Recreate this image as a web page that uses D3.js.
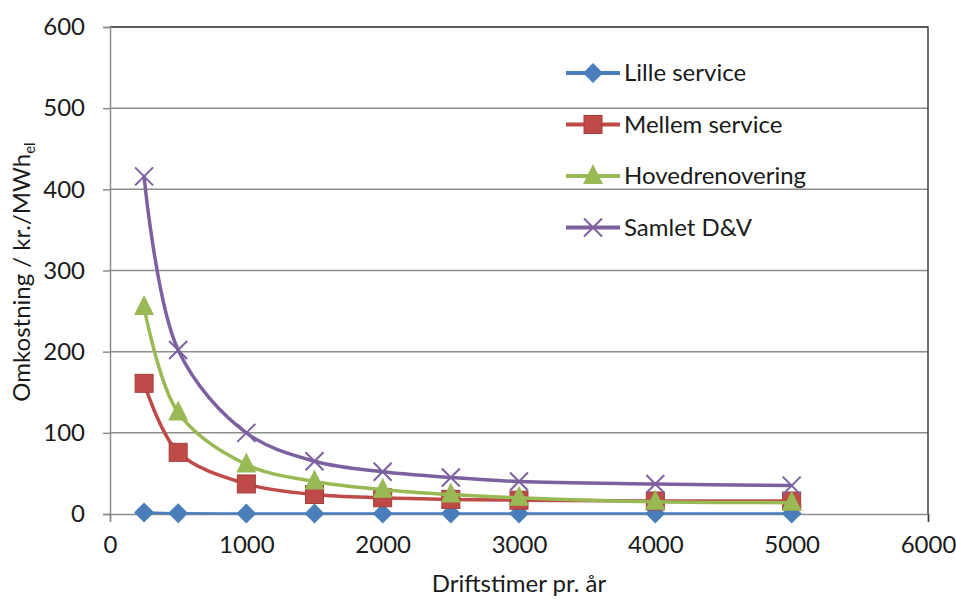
<!DOCTYPE html>
<html>
<head>
<meta charset="utf-8">
<script src="https://cdn.jsdelivr.net/npm/d3@7"></script>
<style>
  body { margin: 0; background: #fff; }
  text { font-family: Lato, "Open Sans", sans-serif; fill: #1a1a1a; }
</style>
</head>
<body>
<script>
// data
var hours = [250, 500, 1000, 1500, 2000, 2500, 3000, 4000, 5000];
var lilleService = [2, 1, 0.5, 0.5, 0.5, 0.5, 0.5, 0.5, 0.5];
var mellemService = [161, 76, 37, 24, 20, 18, 17, 16, 16];
var hovedrenovering = [255, 125, 61, 40, 30, 24, 20, 15, 14];
var samletDV = [416, 202, 100, 65, 52, 45, 40, 37, 35];
var seriesNames = ["Lille service", "Mellem service", "Hovedrenovering", "Samlet D&V"];
var xTicks = [0, 1000, 2000, 3000, 4000, 5000, 6000];
var yTicks = [0, 100, 200, 300, 400, 500, 600];

var width = 956, height = 600;
var margin = {left: 110, right: 28, top: 27, bottom: 86};
var fontSize = 24;

var svg = d3.select("body").append("svg")
    .attr("width", width)
    .attr("height", height);

var x = d3.scaleLinear().domain([0, 6000]).range([margin.left, width - margin.right]);
var y = d3.scaleLinear().domain([0, 600]).range([height - margin.bottom, margin.top]);

// gridlines
svg.append("g").selectAll("line")
    .data(yTicks.filter(function(d) { return d > 0; }))
    .enter().append("line")
    .attr("x1", x(0)).attr("x2", x(6000))
    .attr("y1", function(d) { return y(d); })
    .attr("y2", function(d) { return y(d); })
    .attr("stroke", "#8c8c8c")
    .attr("stroke-width", 1.5);

// plot border top/right
svg.append("path")
    .attr("d", "M" + x(0) + "," + y(600) + "H" + x(6000) + "V" + y(0))
    .attr("fill", "none")
    .attr("stroke", "#404040")
    .attr("stroke-width", 1.5);

// axes
var yAxis = svg.append("g")
    .attr("transform", "translate(" + x(0) + ",0)")
    .call(d3.axisLeft(y).tickValues(yTicks).tickSize(7).tickPadding(18));
var xAxis = svg.append("g")
    .attr("transform", "translate(0," + y(0) + ")")
    .call(d3.axisBottom(x).tickValues(xTicks).tickFormat(d3.format("d")).tickSize(8).tickPadding(14));

[yAxis, xAxis].forEach(function(a) {
  a.selectAll("path, line").attr("stroke", "#8c8c8c").attr("stroke-width", 1.5);
  a.selectAll("text").attr("font-size", fontSize).attr("fill", "#1a1a1a")
    .style("font-family", "Lato, 'Open Sans', sans-serif");
});
xAxis.select(".tick:last-of-type line").attr("stroke", "#404040");

// axis titles
svg.append("text")
    .attr("x", (x(0) + x(6000)) / 2)
    .attr("y", 592)
    .attr("text-anchor", "middle")
    .attr("font-size", fontSize)
    .text("Driftstimer pr. år");

var yt = svg.append("text")
    .attr("transform", "translate(30," + 272 + ") rotate(-90)")
    .attr("text-anchor", "middle")
    .attr("font-size", fontSize);
yt.append("tspan").text("Omkostning / kr./MWh");
yt.append("tspan").attr("font-size", 15).attr("dy", 5).text("el");

var series = [
  {name: seriesNames[0], values: lilleService, color: "#4a7ebb", width: 2.5, marker: "diamond"},
  {name: seriesNames[1], values: mellemService, color: "#be4b48", width: 3.5, marker: "square"},
  {name: seriesNames[2], values: hovedrenovering, color: "#98b954", width: 3.5, marker: "triangle"},
  {name: seriesNames[3], values: samletDV, color: "#7d60a0", width: 3.5, marker: "cross"}
];

var line = d3.line()
    .x(function(d) { return x(d[0]); })
    .y(function(d) { return y(d[1]); })
    .curve(d3.curveCatmullRom.alpha(0.5));

function drawMarker(g, type, color) {
  if (type == "diamond") {
    g.append("path").attr("d", "M0,-10L10,0L0,10L-10,0Z").attr("fill", color);
  } else if (type == "square") {
    g.append("rect").attr("x", -9).attr("y", -9).attr("width", 18).attr("height", 18)
      .attr("fill", color).attr("stroke", "#a33d3a").attr("stroke-width", 1);
  } else if (type == "triangle") {
    g.append("path").attr("d", "M0,-12L10,8L-10,8Z").attr("fill", color);
  } else {
    g.append("path").attr("d", "M-9,-9L9,9M-9,9L9,-9")
      .attr("stroke", color).attr("stroke-width", 2).attr("fill", "none");
  }
}

series.forEach(function(s) {
  var pts = hours.map(function(h, i) { return [h, s.values[i]]; });
  svg.append("path")
      .datum(pts)
      .attr("d", line)
      .attr("fill", "none")
      .attr("stroke", s.color)
      .attr("stroke-width", s.width);
  pts.forEach(function(p) {
    var g = svg.append("g").attr("transform", "translate(" + x(p[0]) + "," + y(p[1]) + ")");
    drawMarker(g, s.marker, s.color);
  });
});

// legend
var legend = svg.append("g");
series.forEach(function(s, i) {
  var ly = 73 + i * 51.5;
  legend.append("line")
      .attr("x1", 566).attr("x2", 620)
      .attr("y1", ly).attr("y2", ly)
      .attr("stroke", s.color).attr("stroke-width", 4);
  var g = legend.append("g").attr("transform", "translate(593," + ly + ")");
  drawMarker(g, s.marker, s.color);
  legend.append("text")
      .attr("x", 624).attr("y", ly + 8)
      .attr("font-size", fontSize)
      .text(s.name);
});
</script>
</body>
</html>
